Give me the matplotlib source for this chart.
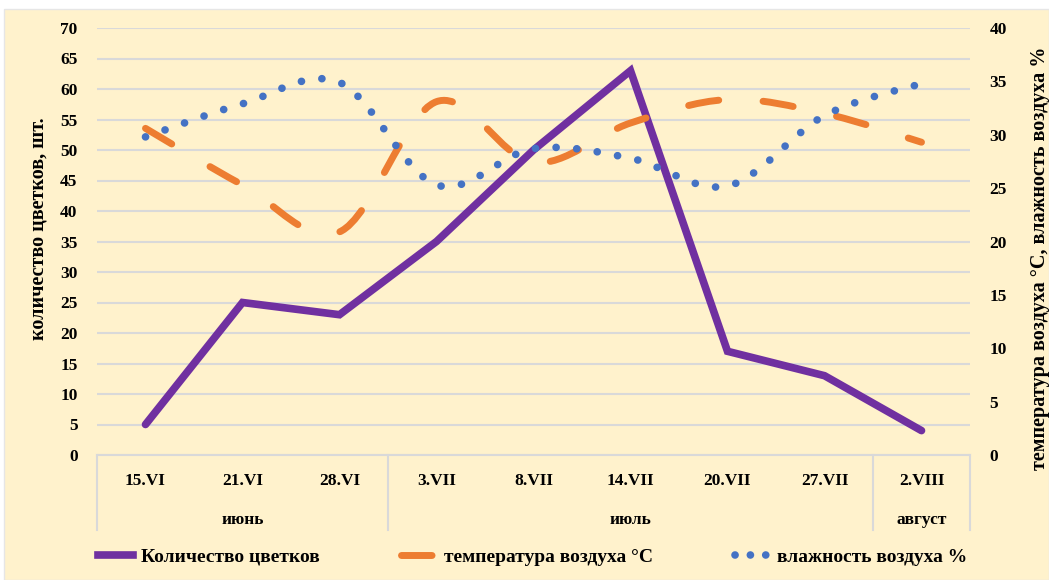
import matplotlib
matplotlib.use("Agg")
import matplotlib.pyplot as plt
from matplotlib.path import Path
from matplotlib.patches import PathPatch, Rectangle
from matplotlib.lines import Line2D
from matplotlib.transforms import blended_transform_factory

dates = ["15.VI", "21.VI", "28.VI", "3.VII", "8.VII", "14.VII", "20.VII", "27.VII", "2.VIII"]
months = ["июнь", "июль", "август"]
month_sizes = [3, 5, 1]
flowers = [5, 25, 23, 35, 50, 63, 17, 13, 4]
temp = [30.6, 25.3, 20.9, 33.1, 27.4, 31.1, 33.3, 32.0, 29.3]
humid = [29.8, 32.9, 34.9, 25.3, 28.7, 27.8, 25.2, 31.8, 34.8]

PURPLE = "#7030A0"
ORANGE = "#ED7D31"
BLUE = "#4472C4"
BG = "#FFF2CC"
FONT = "Liberation Serif"

plt.rcParams["font.family"] = [FONT, "DejaVu Serif"]
plt.rcParams["font.weight"] = "bold"
plt.rcParams["axes.labelweight"] = "bold"


def smooth_path(xs, ys):
    # excel-like smoothed line: catmull-rom -> cubic bezier
    pts = list(zip(xs, ys))
    verts = [pts[0]]
    codes = [Path.MOVETO]
    n = len(pts)
    for i in range(n - 1):
        p0 = pts[i - 1] if i > 0 else pts[i]
        p1 = pts[i]
        p2 = pts[i + 1]
        p3 = pts[i + 2] if i + 2 < n else pts[i + 1]
        c1 = (p1[0] + (p2[0] - p0[0]) / 6, p1[1] + (p2[1] - p0[1]) / 6)
        c2 = (p2[0] - (p3[0] - p1[0]) / 6, p2[1] - (p3[1] - p1[1]) / 6)
        verts += [c1, c2, p2]
        codes += [Path.CURVE4] * 3
    return Path(verts, codes)


fig = plt.figure(figsize=(10.49, 5.80), dpi=100, facecolor="white")
fig.patches.append(Rectangle((0.004, 0), 0.996, 571 / 580, transform=fig.transFigure,
                             facecolor=BG, edgecolor="#E6E6E6", lw=1, zorder=-10))

ax = fig.add_axes([97 / 1049, 1 - 455 / 580, (970 - 97) / 1049, (455 - 28) / 580])
ax.set_facecolor("none")
x = list(range(len(dates)))

ax.plot(x, flowers, color=PURPLE, lw=5.5, solid_capstyle="round", solid_joinstyle="miter", zorder=4)
ax.set_xlim(-0.5, len(dates) - 0.5)
ax.set_ylim(0, 70)
ax.set_yticks(range(0, 71, 5))
ax.grid(axis="y", color="#D9D9D9", lw=1.5)
ax.set_axisbelow(True)
for s in ["top", "right", "left"]:
    ax.spines[s].set_visible(False)
ax.spines["bottom"].set_color("#D9D9D9")
ax.spines["bottom"].set_linewidth(1.5)
ax.tick_params(axis="y", length=0, pad=14, labelsize=12.5)
ax.set_xticks(x)
ax.set_xticklabels(dates)
ax.tick_params(axis="x", length=0, pad=13, labelsize=12.5)
ax.set_ylabel("количество цветков, шт.", fontsize=14.5)
ax.yaxis.set_label_coords(-0.056, 0.53)

ax2 = ax.twinx()
ax2.set_ylim(0, 40)
ax2.set_yticks(range(0, 41, 5))
for s in ax2.spines.values():
    s.set_visible(False)
ax2.tick_params(axis="y", length=0, pad=14, labelsize=12.5)
ax2.set_ylabel("температура воздуха °С, влажность воздуха %", fontsize=14.5)
ax2.yaxis.set_label_coords(1.069, 0.46)

temp_patch = PathPatch(smooth_path(x, temp), fill=False, edgecolor=ORANGE, lw=5,
                       linestyle=(0, (4.4, 6.4)), capstyle="round", zorder=3)
hum_patch = PathPatch(smooth_path(x, humid), fill=False, edgecolor=BLUE, lw=5.5,
                      linestyle=(0, (0.01, 2.7)), capstyle="round", zorder=3)
ax2.add_patch(temp_patch)
ax2.add_patch(hum_patch)

# multi-level category axis
tr = blended_transform_factory(ax.transData, ax.transAxes)
edges = [-0.5]
for m in month_sizes:
    edges.append(edges[-1] + m)
for e in edges:
    ax.plot([e, e], [0, -75 / 427], transform=tr, color="#D9D9D9", lw=1.5, clip_on=False)
for i, m in enumerate(months):
    ax.text((edges[i] + edges[i + 1]) / 2, -65 / 427, m, transform=tr,
            ha="center", va="center", fontsize=12.5)

handles = [
    Line2D([], [], color=PURPLE, lw=5.5),
    Line2D([], [], color=ORANGE, lw=5, linestyle=(0, (4.4, 6.4)), dash_capstyle="round"),
    Line2D([], [], color=BLUE, lw=5.5, linestyle=(0, (0.01, 2.0)), dash_capstyle="round"),
]
labels = ["Количество цветков", "температура воздуха °С", "влажность воздуха %"]
fig.legend(handles, labels, loc="center", bbox_to_anchor=(0.508, 1 - 557 / 580), ncol=3,
           frameon=False, fontsize=14, handlelength=1.8, columnspacing=4.2, handletextpad=0.4)

fig.savefig("out.png", dpi=100, facecolor="white")
